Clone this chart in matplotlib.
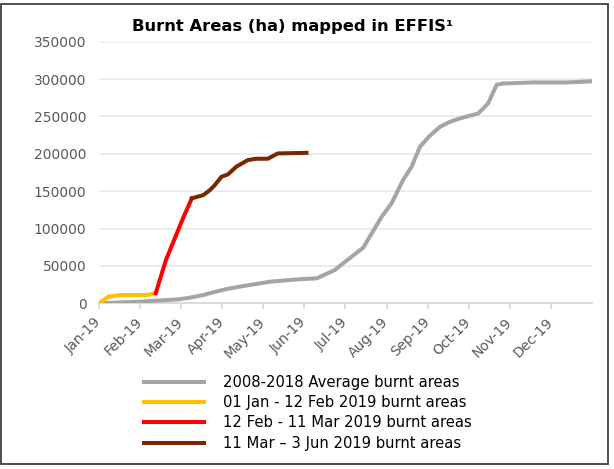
import matplotlib
matplotlib.use("Agg")
import matplotlib.pyplot as plt
from matplotlib.patches import Rectangle

# x positions are in months from 1 Jan 2019 (0 = Jan, 12 = end of Dec)
avg_x = [0.0, 0.59, 1.0, 1.40, 1.93, 2.21, 2.54, 2.78, 3.11, 3.51, 3.92, 4.16,
         4.65, 4.97, 5.30, 5.74, 5.99, 6.43, 6.88, 7.12, 7.40, 7.61, 7.81, 8.05,
         8.30, 8.54, 8.78, 9.23, 9.47, 9.68, 9.84, 10.57, 11.38, 11.99]
avg_y = [0, 1300, 2100, 3500, 5300, 7500, 11100, 14700, 19100, 23100, 26700, 28900,
         31200, 32500, 33400, 44500, 55600, 74300, 115800, 133700, 164800, 182700,
         209400, 224000, 236100, 242800, 247300, 254000, 267400, 292500, 294100,
         295500, 295500, 297000]

jan_x = [0.0, 0.23, 0.51, 1.16, 1.38]
jan_y = [0, 8800, 11000, 11000, 13400]

feb_x = [1.38, 1.63, 2.06, 2.26]
feb_y = [13400, 58000, 115800, 140400]

mar_x = [2.26, 2.54, 2.70, 2.82, 2.98, 3.14, 3.34, 3.62, 3.82, 4.11, 4.35, 5.05]
mar_y = [140400, 144800, 151500, 158200, 169300, 172500, 182700, 191600, 193400,
         193400, 200500, 201300]

month_labels = ["Jan-19", "Feb-19", "Mar-19", "Apr-19", "May-19", "Jun-19",
                "Jul-19", "Aug-19", "Sep-19", "Oct-19", "Nov-19", "Dec-19"]
y_ticks = [0, 50000, 100000, 150000, 200000, 250000, 300000, 350000]

series_labels = ["2008-2018 Average burnt areas",
                 "01 Jan - 12 Feb 2019 burnt areas",
                 "12 Feb - 11 Mar 2019 burnt areas",
                 "11 Mar \u2013 3 Jun 2019 burnt areas"]
colors = ["#A5A5A5", "#FFC000", "#FF0000", "#782800"]

plt.rcParams['font.family'] = ['DejaVu Sans']

fig = plt.figure(figsize=(6.14, 4.69), dpi=100)
ax = fig.add_axes([99/614, 1-303.3/469, (592-99)/614, (303.3-41.7)/469])

lw = 2.9
l1, = ax.plot(avg_x, avg_y, color=colors[0], lw=lw, solid_joinstyle='round', zorder=3)
l2, = ax.plot(jan_x, jan_y, color=colors[1], lw=lw, solid_joinstyle='round', zorder=4)
l3, = ax.plot(feb_x, feb_y, color=colors[2], lw=lw, solid_joinstyle='round', zorder=4)
l4, = ax.plot(mar_x, mar_y, color=colors[3], lw=lw, solid_joinstyle='round', zorder=5)

ax.set_xlim(0, 12)
ax.set_ylim(0, 350000)
ax.set_yticks(y_ticks)
ax.set_yticklabels([str(v) for v in y_ticks])
ax.set_xticks(range(12))
ax.set_xticklabels(month_labels, rotation=45, ha='right', va='center',
                   rotation_mode='anchor')

ax.grid(axis='y', color='#EBEBEB', lw=1.3)
ax.set_axisbelow(True)
for s in ['top', 'right', 'left']:
    ax.spines[s].set_visible(False)
ax.spines['bottom'].set_color('#D9D9D9')
ax.spines['bottom'].set_linewidth(1.3)

ax.tick_params(axis='y', length=0, pad=9, labelsize=10, labelcolor='#595959')
ax.tick_params(axis='x', length=4, width=1.3, color='#D9D9D9', pad=8,
               labelsize=10, labelcolor='#595959')

fig.text(293/614, 1-26/469, "Burnt Areas (ha) mapped in EFFIS\u00b9",
         ha='center', va='center', fontsize=11.8, fontweight='bold', color='black')

leg = fig.legend([l1, l2, l3, l4], series_labels, loc='upper left',
                 bbox_to_anchor=(138/614, 1-369/469), frameon=False,
                 fontsize=10.6, handlelength=4.05, handletextpad=1.3,
                 labelspacing=0.36, borderaxespad=0)
for t in leg.get_texts():
    t.set_color('black')

fig.patches.append(Rectangle((1.5/614, 1-464/469), (608-1.5)/614, (464-4)/469,
                             transform=fig.transFigure, fill=False,
                             edgecolor='#404040', lw=1.3))

fig.savefig("out.png", dpi=100)
